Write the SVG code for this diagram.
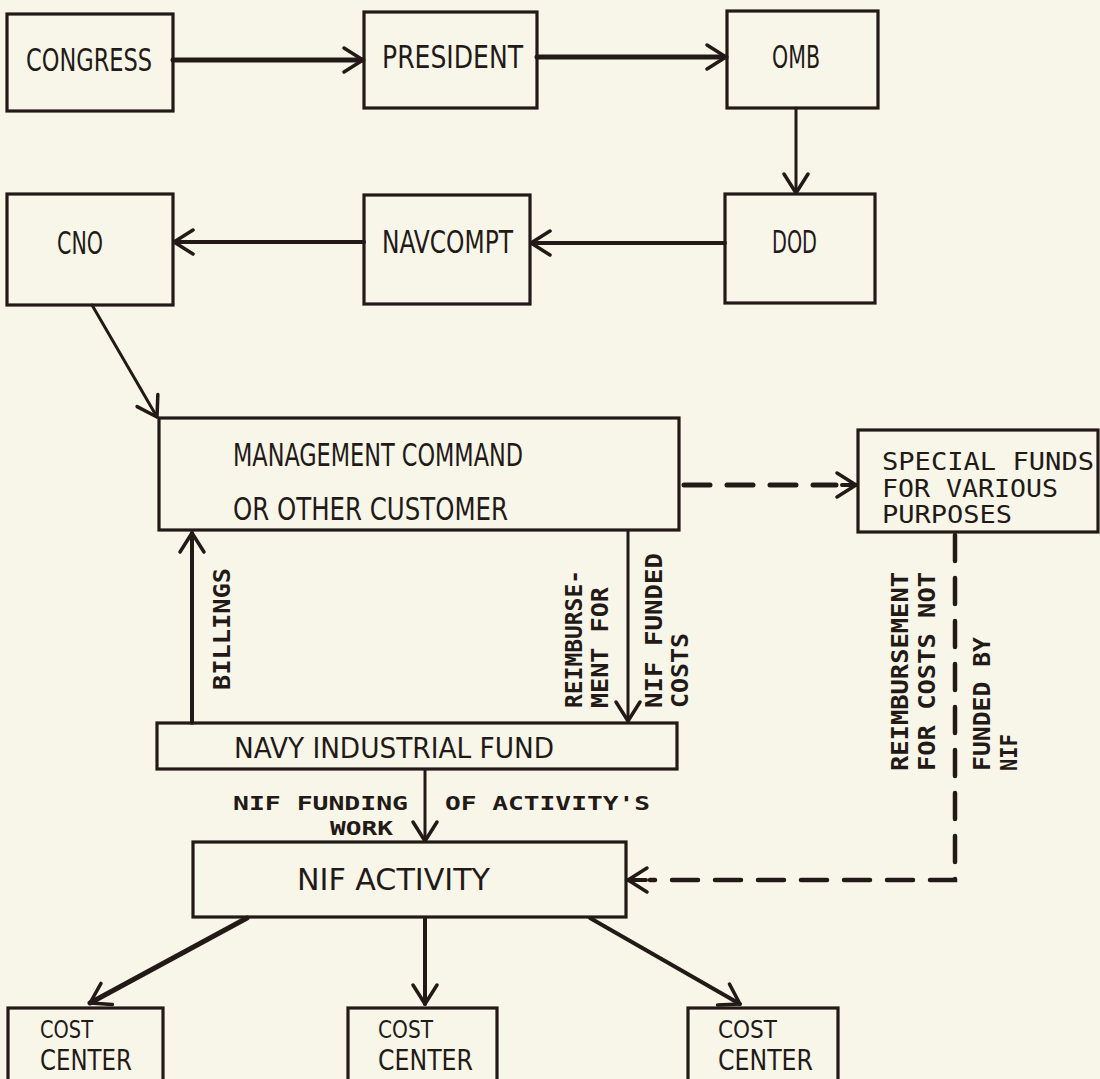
<svg xmlns="http://www.w3.org/2000/svg" width="1100" height="1079" viewBox="0 0 1100 1079">
<style>
.bx{fill:none;stroke:#231a18;stroke-width:3.2}
.t{font-family:"DejaVu Sans Condensed","Liberation Sans Narrow","DejaVu Sans",sans-serif;fill:#231a18;font-size:32px}
.m{font-family:"DejaVu Sans Mono","Liberation Mono",monospace;fill:#231a18;font-size:20px;font-weight:bold}
.r{font-family:"DejaVu Sans Mono","Liberation Mono",monospace;fill:#231a18;font-size:23px;font-weight:bold}
.ln{fill:none;stroke:#231a18;stroke-width:4;stroke-linecap:round}
.dl{fill:none;stroke:#231a18;stroke-width:5;stroke-dasharray:26 17;stroke-linecap:round}
</style>
<defs>
<marker id="ah" viewBox="-24 -16 28 32" refX="0" refY="0" markerWidth="28" markerHeight="32" markerUnits="userSpaceOnUse" orient="auto">
<path d="M-19,-12 L0,0 L-19,12" fill="none" stroke="#231a18" stroke-width="3.5" stroke-linecap="round" stroke-linejoin="round"/>
</marker>
</defs>
<rect x="0" y="0" width="1100" height="1079" fill="#f8f6e8"/>

<g id="connectors">
<line class="ln" x1="173" y1="60" x2="363" y2="60" style="stroke-width:5" marker-end="url(#ah)"/>
<line class="ln" x1="537" y1="57" x2="726" y2="57" style="stroke-width:5" marker-end="url(#ah)"/>
<line class="ln" x1="796" y1="108" x2="796" y2="193" style="stroke-width:3" marker-end="url(#ah)"/>
<line class="ln" x1="725" y1="243" x2="531" y2="243" marker-end="url(#ah)"/>
<line class="ln" x1="364" y1="242" x2="174" y2="242" marker-end="url(#ah)"/>
<line class="ln" x1="92" y1="305" x2="157" y2="417" style="stroke-width:3" marker-end="url(#ah)"/>
<line class="dl" x1="684" y1="485" x2="836" y2="485"/>
<line class="ln" x1="842" y1="485" x2="856" y2="485" style="stroke-width:4" marker-end="url(#ah)"/>
<line class="ln" x1="192" y1="723" x2="192" y2="533" marker-end="url(#ah)"/>
<line class="ln" x1="628" y1="531" x2="628" y2="721" style="stroke-width:3" marker-end="url(#ah)"/>
<line class="ln" x1="425" y1="770" x2="425" y2="841" style="stroke-width:3" marker-end="url(#ah)"/>
<path class="dl" d="M955,535 V880 H650" style="stroke-width:4.5"/>
<line class="ln" x1="646" y1="880" x2="628" y2="880" marker-end="url(#ah)"/>
<line class="ln" x1="247" y1="918" x2="90" y2="1003" style="stroke-width:5" marker-end="url(#ah)"/>
<line class="ln" x1="425" y1="918" x2="425" y2="1004" marker-end="url(#ah)"/>
<line class="ln" x1="590" y1="918" x2="740" y2="1004" marker-end="url(#ah)"/>
</g>

<g id="congress"><rect class="bx" x="7" y="14" width="166" height="97"/><text class="t" x="26" y="71" textLength="126" lengthAdjust="spacingAndGlyphs">CONGRESS</text></g>
<g id="president"><rect class="bx" x="364" y="12" width="173" height="96"/><text class="t" x="382" y="68" textLength="141" lengthAdjust="spacingAndGlyphs">PRESIDENT</text></g>
<g id="omb"><rect class="bx" x="727" y="11" width="151" height="97"/><text class="t" x="772" y="68" textLength="48" lengthAdjust="spacingAndGlyphs">OMB</text></g>
<g id="cno"><rect class="bx" x="7" y="194" width="166" height="111"/><text class="t" x="57" y="254" textLength="46" lengthAdjust="spacingAndGlyphs">CNO</text></g>
<g id="navcompt"><rect class="bx" x="364" y="195" width="166" height="109"/><text class="t" x="382" y="253" textLength="131" lengthAdjust="spacingAndGlyphs">NAVCOMPT</text></g>
<g id="dod"><rect class="bx" x="725" y="194" width="150" height="109"/><text class="t" x="772" y="253" textLength="45" lengthAdjust="spacingAndGlyphs">DOD</text></g>

<g id="management-command"><rect class="bx" x="159" y="418" width="520" height="112"/>
<text class="t" x="233" y="466" textLength="290" lengthAdjust="spacingAndGlyphs">MANAGEMENT COMMAND</text>
<text class="t" x="233" y="520" textLength="275" lengthAdjust="spacingAndGlyphs">OR OTHER CUSTOMER</text></g>

<g id="special-funds"><rect class="bx" x="858" y="430" width="240" height="102"/>
<text class="m" style="font-size:24px;font-weight:normal" x="882" y="470" textLength="212" lengthAdjust="spacingAndGlyphs">SPECIAL FUNDS</text>
<text class="m" style="font-size:24px;font-weight:normal" x="882" y="497" textLength="176" lengthAdjust="spacingAndGlyphs">FOR VARIOUS</text>
<text class="m" style="font-size:24px;font-weight:normal" x="882" y="523" textLength="130" lengthAdjust="spacingAndGlyphs">PURPOSES</text></g>

<g id="navy-industrial-fund"><rect class="bx" x="157" y="723" width="520" height="46"/>
<text class="t" style="font-size:29px" x="234" y="758" textLength="320" lengthAdjust="spacingAndGlyphs">NAVY INDUSTRIAL FUND</text></g>

<g id="nif-activity"><rect class="bx" x="193" y="842" width="433" height="75"/>
<text class="t" style="font-size:31px" x="297" y="890" textLength="193" lengthAdjust="spacingAndGlyphs">NIF ACTIVITY</text></g>

<g id="cost-center-1"><rect class="bx" x="8" y="1008" width="155" height="80"/>
<text class="t" style="font-size:24px" x="40" y="1038" textLength="53" lengthAdjust="spacingAndGlyphs">COST</text>
<text class="t" style="font-size:28px" x="40" y="1070" textLength="92" lengthAdjust="spacingAndGlyphs">CENTER</text></g>
<g id="cost-center-2"><rect class="bx" x="348" y="1008" width="149" height="80"/>
<text class="t" style="font-size:24px" x="378" y="1038" textLength="55" lengthAdjust="spacingAndGlyphs">COST</text>
<text class="t" style="font-size:28px" x="378" y="1070" textLength="95" lengthAdjust="spacingAndGlyphs">CENTER</text></g>
<g id="cost-center-3"><rect class="bx" x="688" y="1008" width="150" height="80"/>
<text class="t" style="font-size:24px" x="718" y="1038" textLength="59" lengthAdjust="spacingAndGlyphs">COST</text>
<text class="t" style="font-size:28px" x="718" y="1070" textLength="95" lengthAdjust="spacingAndGlyphs">CENTER</text></g>

<g id="labels">
<text class="r" transform="translate(230,690) rotate(-90)" textLength="122" lengthAdjust="spacingAndGlyphs">BILLINGS</text>
<text class="r" transform="translate(582,708) rotate(-90)" textLength="138" lengthAdjust="spacingAndGlyphs">REIMBURSE-</text>
<text class="r" transform="translate(608,708) rotate(-90)" textLength="121" lengthAdjust="spacingAndGlyphs">MENT FOR</text>
<text class="r" transform="translate(662,708) rotate(-90)" textLength="155" lengthAdjust="spacingAndGlyphs">NIF FUNDED</text>
<text class="r" transform="translate(688,708) rotate(-90)" textLength="75" lengthAdjust="spacingAndGlyphs">COSTS</text>
<text class="r" transform="translate(908,771) rotate(-90)" textLength="199" lengthAdjust="spacingAndGlyphs">REIMBURSEMENT</text>
<text class="r" transform="translate(935,771) rotate(-90)" textLength="199" lengthAdjust="spacingAndGlyphs">FOR COSTS NOT</text>
<text class="r" transform="translate(990,771) rotate(-90)" textLength="134" lengthAdjust="spacingAndGlyphs">FUNDED BY</text>
<text class="r" transform="translate(1017,771) rotate(-90)" textLength="37" lengthAdjust="spacingAndGlyphs">NIF</text>
<text class="m" x="233" y="810" textLength="175" lengthAdjust="spacingAndGlyphs">NIF FUNDING</text>
<text class="m" x="445" y="810" textLength="205" lengthAdjust="spacingAndGlyphs">OF ACTIVITY'S</text>
<text class="m" x="330" y="835" textLength="63" lengthAdjust="spacingAndGlyphs">WORK</text>
</g>
</svg>
